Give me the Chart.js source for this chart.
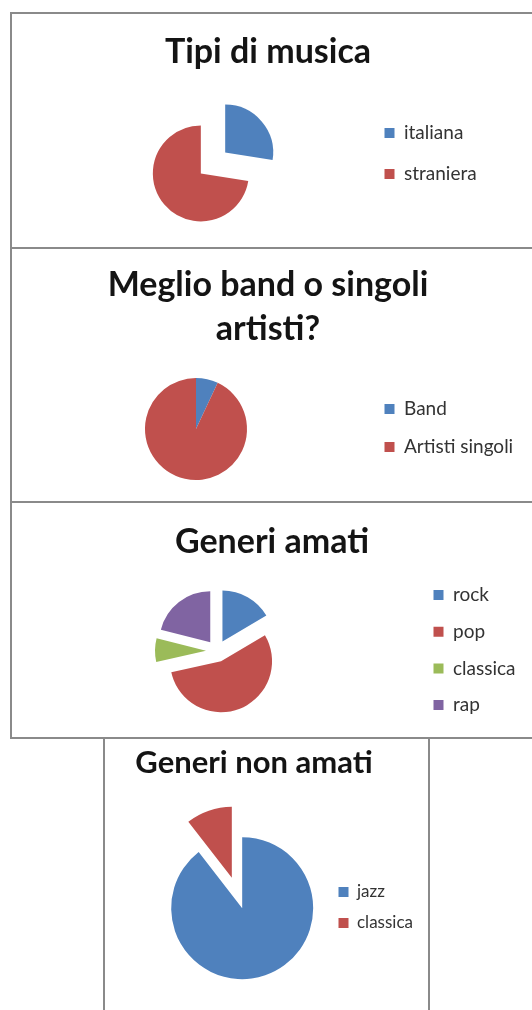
<!DOCTYPE html>
<html>
<head>
<meta charset="utf-8">
<script src="https://cdn.jsdelivr.net/npm/chart.js@4.4.1/dist/chart.umd.min.js"></script>
<style>
  html, body { margin: 0; padding: 0; background: #ffffff; width: 532px; height: 1010px; overflow: hidden; position: relative; }
  .panel { position: absolute; border: 2px solid #8a8a8a; box-sizing: border-box; background: #ffffff; }
  canvas { position: absolute; }
</style>
</head>
<body>
<div class="panel" style="left:10px; top:12px; width:540px; height:237px;"></div>
<div class="panel" style="left:10px; top:247px; width:540px; height:256px;"></div>
<div class="panel" style="left:10px; top:501px; width:540px; height:238px;"></div>
<div class="panel" style="left:103px; top:737px; width:327px; height:300px;"></div>
<canvas id="c1"></canvas>
<canvas id="c2"></canvas>
<canvas id="c3"></canvas>
<canvas id="c4"></canvas>
<script>
// ---------------- DATA ----------------
const tipiTitle = 'Tipi di musica';
const tipiLabels = ['italiana', 'straniera'];
const tipiValues = [27.5, 72.5];

const bandTitle = ['Meglio band o singoli', 'artisti?'];
const bandLabels = ['Band', 'Artisti singoli'];
const bandValues = [7, 93];

const amatiTitle = 'Generi amati';
const amatiLabels = ['rock', 'pop', 'classica', 'rap'];
const amatiValues = [16.5, 55, 7.5, 21];

const nonAmatiTitle = 'Generi non amati';
const nonAmatiLabels = ['jazz', 'classica'];
const nonAmatiValues = [89.5, 10.5];

// ---------------- STYLE ----------------
const BLUE = '#4F81BD', RED = '#C0504D', GREEN = '#9BBB59', PURPLE = '#8064A2';
const FONT = 'Lato';
const TITLE_COLOR = '#141414';
const LEGEND_COLOR = '#333333';
const BOX = 10;

// layout targets (page coordinates)
const layout1 = {box: [12, 14, 520, 233], cx: 213, cy: 163, r: 48, explode: 16, titleMid: 52, titleLh: 1.2, titleCx: 268, titleFs: 34, legFs: 19, legStep: 41, legFirst: 133, legTextX: 404, align: 'start'};
const layout2 = {box: [12, 249, 520, 252], cx: 196, cy: 429, r: 51, explode: 0, titleMid: 285, titleLh: 1.3, titleCx: 268, titleFs: 34, legFs: 19, legStep: 38, legFirst: 409, legTextX: 404, align: 'start'};
const layout3 = {box: [12, 503, 520, 234], cx: 217, cy: 651, r: 51, explode: 11, titleMid: 542, titleLh: 1.2, titleCx: 272, titleFs: 34, legFs: 19, legStep: 36.7, legFirst: 595, legTextX: 453, align: 'start'};
const layout4 = {box: [12, 739, 520, 271], cx: 237, cy: 893, r: 71, explode: 16, titleMid: 763, titleLh: 1.2, titleCx: 254, titleFs: 31, legFs: 17, legStep: 31, legFirst: 892, legTextX: 357, align: 'end'};

// ---------------- HELPERS ----------------
const mctx = document.createElement('canvas').getContext('2d');
function measure(text, font) { mctx.font = font; return mctx.measureText(text).width; }

function makeExplode(d) {
  return {
    id: 'explode',
    afterDatasetsUpdate(chart) {
      if (!d) return;
      chart.getDatasetMeta(0).data.forEach(arc => {
        const mid = (arc.startAngle + arc.endAngle) / 2;
        arc.x += Math.cos(mid) * d;
        arc.y += Math.sin(mid) * d;
      });
    }
  };
}

// invisible layout gutters (left of the pie / right of the legend)
function makeSpacer(widths) {
  return {
    id: 'spacer',
    beforeInit(chart) {
      const add = (pos, weight) => {
        const box = {
          position: pos, weight: weight, fullSize: false, options: {display: false},
          width: 0, height: 0, left: 0, top: 0, right: 0, bottom: 0,
          isHorizontal() { return false; },
          update(maxWidth, maxHeight) { this.width = Math.max(widths[pos], 0); this.height = maxHeight; },
          draw() {}
        };
        Chart.layouts.addBox(chart, box);
      };
      add('left', 0);
      add('right', 5000);
    }
  };
}

function buildChart(id, spec, title, labels, values, colors) {
  const [bx, by, W, H] = spec.box;
  const canvas = document.getElementById(id);
  canvas.width = W; canvas.height = H;
  canvas.style.left = bx + 'px'; canvas.style.top = by + 'px';
  canvas.style.width = W + 'px'; canvas.style.height = H + 'px';

  const cx = spec.cx - bx, cy = spec.cy - by;
  const titleMid = spec.titleMid - by, titleCx = spec.titleCx - bx;
  const legFirst = spec.legFirst - by, textX = spec.legTextX - bx;
  const lines = Array.isArray(title) ? title.length : 1;
  const lh = spec.titleLh * spec.titleFs;
  const pt = titleMid - lh / 2;
  const fl = spec.legFs, P = spec.legStep - fl;
  let T, B;
  if (spec.align === 'start') { T = legFirst - P - fl / 2; B = 2 * cy - T; }
  else { B = legFirst + (labels.length - 1) * spec.legStep + P + fl / 2; T = 2 * cy - B; }
  const pb = T - pt - lines * lh;
  const padB = H - B;
  const R = textX - P - BOX - fl / 2;
  const titleW = Math.max(...[].concat(title).map(t => measure(t, 'normal bold ' + spec.titleFs + 'px ' + FONT)));

  const widths = {left: 0, right: 0};
  const chart = new Chart(canvas.getContext('2d'), {
    type: 'pie',
    data: {
      labels: labels,
      datasets: [{ data: values, backgroundColor: colors, borderWidth: 0, clip: false }]
    },
    options: {
      responsive: false,
      maintainAspectRatio: false,
      animation: false,
      events: [],
      radius: spec.r,
      layout: { padding: { left: 0, right: 0, top: 0, bottom: padB } },
      plugins: {
        tooltip: { enabled: false },
        title: {
          display: true, text: title, color: TITLE_COLOR,
          font: { family: FONT, size: spec.titleFs, weight: 'bold', lineHeight: spec.titleLh },
          padding: { top: pt, bottom: pb }
        },
        legend: {
          display: true, position: 'right', align: spec.align, fullSize: false,
          labels: { boxWidth: BOX, boxHeight: BOX, padding: P, color: LEGEND_COLOR, font: { family: FONT, size: fl } }
        }
      }
    },
    plugins: [makeExplode(spec.explode), makeSpacer(widths)]
  });

  // second pass: place pie, legend and title using the legend's real width
  const LW = chart.legend.width;
  const K = Math.max(2 * (titleCx - cx), titleW / 2 + titleCx - R + 6, LW);
  const padL = 2 * titleCx - R - K;
  const padR = W - R - K;
  widths.left = 2 * (cx - titleCx) + K;
  widths.right = K - LW;
  chart.options.layout.padding = { left: padL, right: padR, top: 0, bottom: padB };
  chart.update();
  return chart;
}

buildChart('c1', layout1, tipiTitle, tipiLabels, tipiValues, [BLUE, RED]);
buildChart('c2', layout2, bandTitle, bandLabels, bandValues, [BLUE, RED]);
buildChart('c3', layout3, amatiTitle, amatiLabels, amatiValues, [BLUE, RED, GREEN, PURPLE]);
buildChart('c4', layout4, nonAmatiTitle, nonAmatiLabels, nonAmatiValues, [BLUE, RED]);
</script>
</body>
</html>
